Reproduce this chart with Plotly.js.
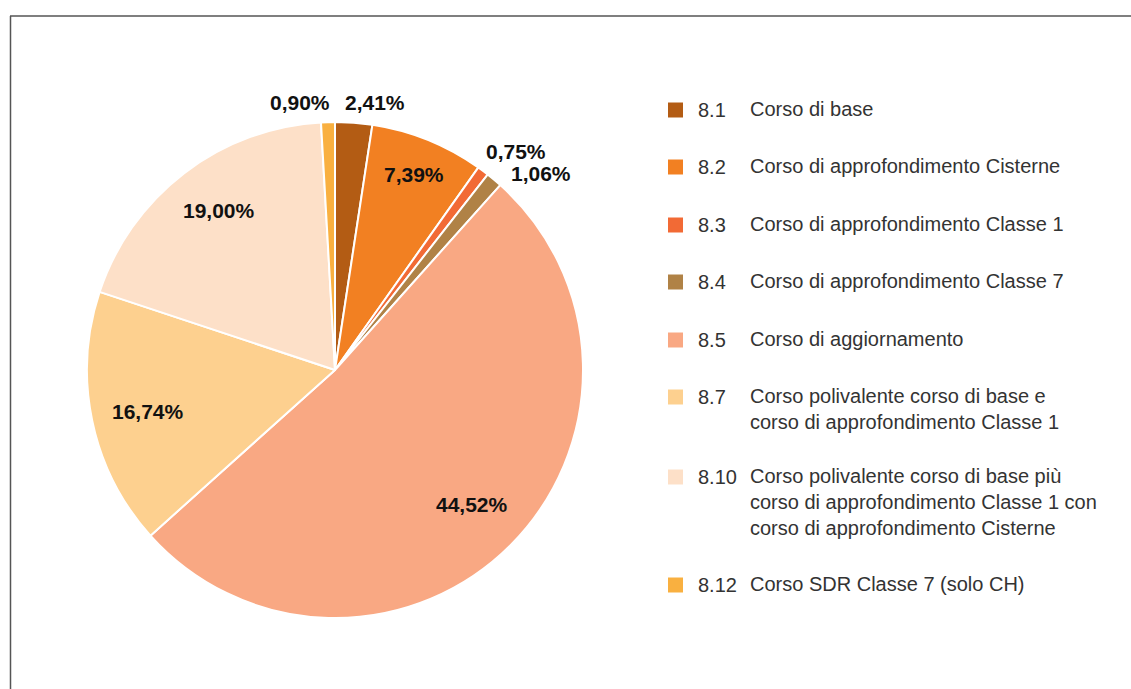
<!DOCTYPE html>
<html>
<head>
<meta charset="utf-8">
<script src="https://cdn.plot.ly/plotly-3.0.1.min.js"></script>
<style>html,body{margin:0;padding:0;background:#fff;}#chart{width:1131px;height:689px;}</style>
</head>
<body>
<div id="chart"></div>
<script>
// Data
var codes = ['8.1', '8.2', '8.3', '8.4', '8.5', '8.7', '8.10', '8.12'];
var descriptions = [
  'Corso di base',
  'Corso di approfondimento Cisterne',
  'Corso di approfondimento Classe 1',
  'Corso di approfondimento Classe 7',
  'Corso di aggiornamento',
  'Corso polivalente corso di base e<br>corso di approfondimento Classe 1',
  'Corso polivalente corso di base più<br>corso di approfondimento Classe 1 con<br>corso di approfondimento Cisterne',
  'Corso SDR Classe 7 (solo CH)'
];
// slice sizes as drawn (the 8.5 slice is drawn larger than its printed label)
var sliceValues = [2.41, 7.39, 0.75, 1.06, 51.75, 16.74, 19.00, 0.90];
var printedLabels = ['2,41%', '7,39%', '0,75%', '1,06%', '44,52%', '16,74%', '19,00%', '0,90%'];
var colors = ['#b35c14', '#f28022', '#f26a35', '#b08246', '#f9a883', '#fdd08f', '#fde0c8', '#f9b040'];

// label placement styling (radius as a fraction of the pie radius, pixel nudges)
var labelRadius = [1.08, 0.85, 1.14, 1.15, 0.77, 0.77, 0.80, 1.08];
var labelShiftX = [20, 0, 12, 23, 2, 0, 5, -27];
var labelShiftY = [0, 0, -8, -22, 0, -3, 2, 0];

var W = 1131, H = 689;
function px(x) { return x / W; }
function py(y) { return 1 - y / H; }

var cx = 335, cy = 370, r = 248;

var trace = {
  type: 'pie',
  values: sliceValues,
  labels: codes,
  text: printedLabels,
  textinfo: 'none',
  sort: false,
  direction: 'clockwise',
  rotation: 0,
  marker: { colors: colors, line: { color: '#ffffff', width: 2 } },
  domain: { x: [px(cx - r), px(cx + r)], y: [py(cy + r), py(cy - r)] },
  hoverinfo: 'label+text',
  automargin: false
};

var shapes = [
  { type: 'line', xref: 'paper', yref: 'paper', x0: px(10), x1: px(1131), y0: py(16), y1: py(16), line: { color: '#555555', width: 1.5 } },
  { type: 'line', xref: 'paper', yref: 'paper', x0: px(10.5), x1: px(10.5), y0: py(16), y1: py(689), line: { color: '#555555', width: 1.5 } }
];
var annotations = [];

// slice labels, positioned from the slice angles
var total = sliceValues.reduce(function (a, b) { return a + b; }, 0);
var cum = 0;
var bf = { family: 'Liberation Sans, Arial, sans-serif', size: 21, color: '#111111', weight: 'bold' };
for (var k = 0; k < sliceValues.length; k++) {
  var mid = (cum + sliceValues[k] / 2) / total * 2 * Math.PI;
  cum += sliceValues[k];
  var rr = r * labelRadius[k];
  var lx = cx + Math.sin(mid) * rr;
  var ly = cy - Math.cos(mid) * rr;
  annotations.push({
    xref: 'paper', yref: 'paper', x: px(lx), y: py(ly), xanchor: 'center', yanchor: 'middle',
    xshift: labelShiftX[k], yshift: labelShiftY[k],
    text: '<b>' + printedLabels[k] + '</b>', showarrow: false, font: bf
  });
}

// custom legend
var legendY = [110, 167, 225, 282, 340, 397, 477, 585];
var lf = { family: 'Liberation Sans, Arial, sans-serif', size: 20, color: '#333333' };
for (var i = 0; i < codes.length; i++) {
  var y = legendY[i];
  shapes.push({ type: 'rect', xref: 'paper', yref: 'paper', x0: px(668), x1: px(683), y0: py(y + 7.5), y1: py(y - 7.5), fillcolor: colors[i], line: { width: 0 } });
  annotations.push({ xref: 'paper', yref: 'paper', x: px(696), y: py(y), xanchor: 'left', yanchor: 'middle', text: codes[i], showarrow: false, font: lf, align: 'left' });
  annotations.push({ xref: 'paper', yref: 'paper', x: px(748), y: py(y - 14), xanchor: 'left', yanchor: 'top', text: descriptions[i], showarrow: false, font: lf, align: 'left' });
}

var layout = {
  width: W, height: H,
  margin: { l: 0, r: 0, t: 0, b: 0 },
  paper_bgcolor: '#ffffff',
  showlegend: false,
  shapes: shapes,
  annotations: annotations,
  font: { family: 'Liberation Sans, Arial, sans-serif' }
};

Plotly.newPlot('chart', [trace], layout, { displayModeBar: false, staticPlot: true });
</script>
</body>
</html>
